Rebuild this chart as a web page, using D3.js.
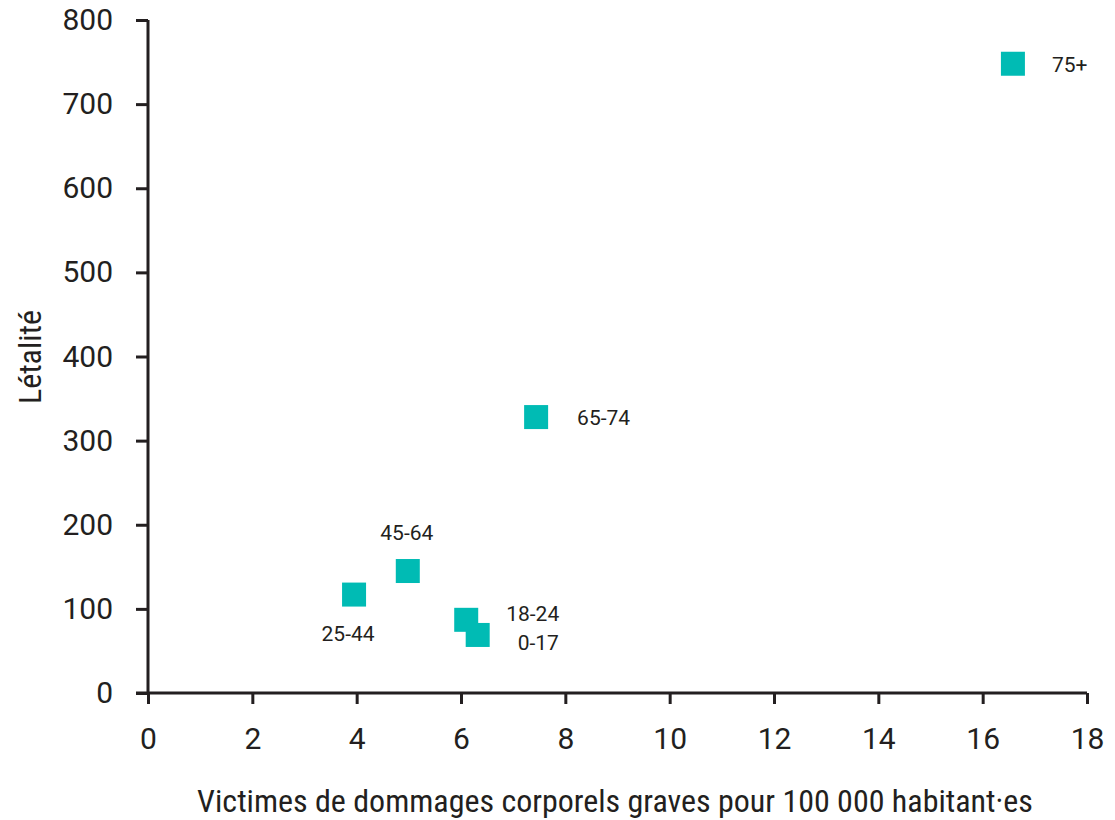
<!DOCTYPE html>
<html><head><meta charset="utf-8">
<script src="https://cdn.jsdelivr.net/npm/d3@7"></script>
<style>
body{margin:0;background:#fff;}
text{fill:#231f20;}
.cond{font-family:"Liberation Sans Narrow","Roboto Condensed","Roboto",sans-serif;}
.num{font-family:"Roboto","Liberation Sans",sans-serif;}
</style></head>
<body><svg id="c" width="1115" height="820"></svg>
<script>
const groups = ["75+","65-74","45-64","25-44","18-24","0-17"];
const victims = [16.58, 7.44, 4.98, 3.95, 6.1, 6.32];
const lethality = [748, 328, 145, 117, 87, 69];
const xTicks = [0,2,4,6,8,10,12,14,16,18];
const yTicks = [0,100,200,300,400,500,600,700,800];
const xTitle = "Victimes de dommages corporels graves pour 100 000 habitant·es";
const yTitle = "Létalité";

// label placement (dx, dy, anchor) relative to square center
const labelPos = {
  "75+":[39,8,"start"], "65-74":[41,8,"start"], "45-64":[-1,-31,"middle"],
  "25-44":[-6,46,"middle"], "18-24":[40,1,"start"], "0-17":[40,15,"start"]
};

const svg = d3.select("#c");
const m = {l:148, r:1087, t:20, b:693};
const x = d3.scaleLinear().domain([0,18]).range([m.l,m.r]);
const y = d3.scaleLinear().domain([0,800]).range([m.b,m.t]);

const ax = svg.append("g").attr("transform",`translate(0,${m.b})`)
  .call(d3.axisBottom(x).tickValues(xTicks).tickSize(11).tickPadding(24).tickSizeOuter(0));
const ay = svg.append("g").attr("transform",`translate(${m.l},0)`)
  .call(d3.axisLeft(y).tickValues(yTicks).tickSize(12).tickPadding(23).tickSizeOuter(0));
[ax,ay].forEach(g=>{
  g.attr("font-family",null).attr("font-size",null);
  g.select(".domain").attr("stroke","#231f20").attr("stroke-width",3);
  g.selectAll(".tick line").attr("stroke","#231f20").attr("stroke-width",3);
  g.selectAll(".tick text").attr("class","num").style("font-size","30px").attr("fill","#231f20");
});
ax.select(".domain").attr("d",`M${m.l-12},0H${m.r}`);
ay.select(".domain").attr("d",`M0,${m.t}V${m.b}`);

const sz = 24;
const pts = groups.map((g,i)=>({g, vx:victims[i], vy:lethality[i]}));
svg.append("g").selectAll("rect").data(pts).join("rect")
  .attr("x",d=>x(d.vx)-sz/2).attr("y",d=>y(d.vy)-sz/2)
  .attr("width",sz).attr("height",sz).attr("fill","#00bbb4");
svg.append("g").selectAll("text").data(pts).join("text").attr("class","num")
  .attr("x",d=>x(d.vx)+labelPos[d.g][0]).attr("y",d=>y(d.vy)+labelPos[d.g][1])
  .attr("text-anchor",d=>labelPos[d.g][2]).style("font-size","21px").text(d=>d.g);

svg.append("text").attr("class","cond").attr("x",615).attr("y",812).attr("text-anchor","middle")
  .style("font-size","32px").text(xTitle);
svg.append("text").attr("class","cond").attr("transform","translate(41,357) rotate(-90)").attr("text-anchor","middle")
  .style("font-size","32px").text(yTitle);
</script></body></html>
